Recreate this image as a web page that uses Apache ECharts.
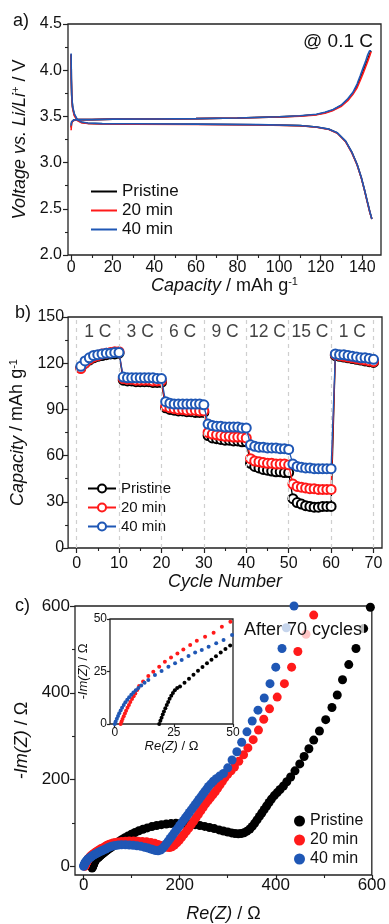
<!DOCTYPE html>
<html><head><meta charset="utf-8">
<script src="https://cdn.jsdelivr.net/npm/echarts@6/dist/echarts.min.js"></script>
<style>html,body{margin:0;padding:0;background:#fff}#c{width:389px;height:924px}</style>
</head><body><div id="c"></div>
<script>
// ================= DATA =================
// Panel a: galvanostatic charge/discharge @ 0.1 C
const chargeCap    = [0, 0.2, 0.6, 1.2, 2.5, 5, 10, 20, 40, 60, 80, 100, 110, 118, 122, 126, 130, 133, 135.5, 137.5, 139, 140.3, 141.5, 142.5, 143.5, 144.2];
const chargeV_P    = [3.38, 3.43, 3.45, 3.46, 3.465, 3.465, 3.465, 3.47, 3.472, 3.476, 3.482, 3.495, 3.505, 3.52, 3.54, 3.57, 3.62, 3.68, 3.75, 3.83, 3.91, 3.98, 4.05, 4.11, 4.17, 4.21];
const chargeV_20   = [3.35, 3.42, 3.45, 3.46, 3.465, 3.465, 3.465, 3.47, 3.472, 3.476, 3.482, 3.494, 3.503, 3.517, 3.535, 3.565, 3.61, 3.67, 3.74, 3.81, 3.89, 3.96, 4.03, 4.09, 4.15, 4.2];
const chargeV_40   = [3.40, 3.44, 3.455, 3.46, 3.465, 3.465, 3.465, 3.47, 3.472, 3.476, 3.482, 3.496, 3.507, 3.523, 3.545, 3.575, 3.625, 3.69, 3.76, 3.85, 3.94, 4.02, 4.09, 4.16, 4.21, 4.21];
const dischCap     = [0, 0.1, 0.3, 0.7, 1.5, 3, 5, 8, 15, 30, 60, 90, 110, 118, 124, 128, 132, 135, 137.5, 139.5, 141, 142.5, 143.7, 144.6];
const dischV_P     = [4.17, 3.9, 3.72, 3.6, 3.52, 3.46, 3.435, 3.425, 3.42, 3.418, 3.415, 3.41, 3.40, 3.385, 3.36, 3.32, 3.23, 3.11, 2.98, 2.84, 2.71, 2.57, 2.46, 2.39];
const dischV_20    = [4.17, 3.9, 3.71, 3.59, 3.51, 3.455, 3.432, 3.423, 3.418, 3.416, 3.413, 3.408, 3.398, 3.383, 3.358, 3.318, 3.225, 3.105, 2.975, 2.835, 2.705, 2.565, 2.455, 2.39];
const dischV_40    = [4.18, 3.92, 3.73, 3.61, 3.53, 3.465, 3.44, 3.428, 3.422, 3.42, 3.416, 3.411, 3.401, 3.386, 3.362, 3.322, 3.232, 3.112, 2.982, 2.842, 2.712, 2.572, 2.462, 2.39];

// Panel b: rate capability
const cycles = [1,2,3,4,5,6,7,8,9,10,11,12,13,14,15,16,17,18,19,20,21,22,23,24,25,26,27,28,29,30,31,32,33,34,35,36,37,38,39,40,41,42,43,44,45,46,47,48,49,50,51,52,53,54,55,56,57,58,59,60,61,62,63,64,65,66,67,68,69,70];
const rateP  = [117,120,122,123.5,124.5,125,125.5,126,126,126.5, 109,108.5,108.5,108,108,108,108,107.5,107.5,107.5, 91,90,89.5,89,89,88.5,88.5,88,88,88, 73,71.5,71,70.5,70,70,69.5,69.5,69,69, 55,53,52,51,50.5,50,49.5,49.5,49,49, 32,29.5,28.5,27.5,27,26.5,26.5,27,27,27, 125,124.5,124,123.5,123,122.5,122,121.5,121,120.5];
const rate20 = [116.5,120,122.5,124,125,126,126.5,127,127.5,127.5, 110,109.5,109.5,109,109,109,109,108.5,108.5,108.5, 92,91,90.5,90,90,89.5,89.5,89.5,89,89, 75,74,73.5,73,72.5,72.5,72,72,72,71.5, 58,56.5,56,55.5,55,55,54.5,54.5,54.5,54, 41.5,40,39.5,39,38.5,38.5,38,38,38,38, 125.5,125,124.5,124,123.5,123,122.5,122,121.5,121];
const rate40 = [118,121.5,123.5,125,125.5,126,126.5,126.5,127,127, 111,110.5,110.5,110.5,110.5,110.5,110.5,110.5,110,110, 95,94,93.5,93.5,93.5,93.5,93.5,93.5,93.5,93, 80.5,79.5,79,79,78.5,78.5,78.5,78.5,78,78, 67,66,65.5,65.5,65,65,65,64.5,64.5,64, 54.5,53,52.5,52,52,51.5,51.5,51.5,51.5,51.5, 126,125.5,125.5,125,124.5,124,123.5,123.5,123,122.5];
const rateLabels  = ['1 C','3 C','6 C','9 C','12 C','15 C','1 C'];
const rateLabelX  = [5, 15, 25, 35, 45, 55, 65];
const rateDividers = [0, 10, 20, 30, 40, 50, 60, 70];

// Panel c: Nyquist plots [Re(Z), -Im(Z)]
const eisP = [[17.5,-4],[18.2,-2],[18.8,0],[19.3,1.5],[19.8,3],[20.3,4.5],[20.8,6],[21.4,7.5],[22,9],[22.6,10.5],[23.2,12],[23.9,13.4],[24.6,14.8],[25.4,16.1],[26.4,17.1],[27.6,17.8],[29.5,19.7],[31.4,21.6],[33.3,23.5],[35.2,25.3],[37.1,27.1],[39,28.9],[40.9,30.6],[42.8,32.3],[44.8,34],[46.8,35.7],[48.8,37.4],[50.9,39.1],[54,41.5],[57.5,44],[61,47],[65,50.5],[69.5,54],[74.5,58],[80,62],[86,66],[92.5,70],[99.5,74],[107,78],[115,82],[123.5,85.5],[132.5,88.5],[142,91.5],[152,94],[162,96],[172,97.5],[182,98.5],[192,99],[202,99],[212,98.5],[222,97.5],[232,96],[242,94],[252,92],[262,89.5],[272,87],[282,84],[291,81.5],[300,79],[308,77],[315,75.5],[322,75],[328,75.5],[334,77.5],[340,81],[346,86],[351,92],[356,99],[361,107],[366,115],[371,123],[376,131],[381,139],[386,147],[391,155],[397,163],[403,170],[409,177],[416,185],[423,195],[431,206],[440,220],[450,236],[459,253],[469,271],[479,291],[491,312],[504,338],[517,366],[528,395],[539,430],[552,465],[567,502],[583,548],[597,597]];
const eis20 = [[2.5,0],[2.9,1.2],[3.3,2.4],[3.8,3.7],[4.3,5],[4.8,6.3],[5.4,7.7],[6,9.1],[6.6,10.5],[7.3,11.9],[8,13.2],[8.7,14.5],[9.5,16.2],[10.3,18.1],[12,20.2],[14.2,22.9],[16.3,24.9],[18.8,27.3],[21.2,29.7],[23.8,31.7],[26.5,33.6],[29,35.5],[31.9,37.6],[34.7,39.7],[38.2,41.6],[41.8,43.5],[45.3,46.3],[48.9,48.7],[52.5,50.5],[56.5,52],[61,53.5],[66,55],[72,56],[79,57],[87,58],[95,58.5],[104,58.5],[113,58],[122,57.5],[131,56.5],[140,55],[148,53],[155,50.5],[161,48],[167,45.5],[173,44],[179,43.5],[184,45],[189,49],[194,54],[199,60],[204,67],[209,74],[214,81],[219,88],[224,96],[229,104],[234,112],[239,120],[244,128],[249,136],[254,144],[259,151],[264,158],[269,165],[274,172],[279,180],[284,188],[289,196],[294,204],[300,212],[307,220],[314,229],[323,242],[333,257],[342,273],[353,292],[364,314],[375,339],[387,363],[403,390],[418,421],[433,459],[446,495],[463,535],[479,579]];
const eis40 = [[0,0],[0.4,1.2],[0.9,2.5],[1.4,3.8],[1.9,5.1],[2.5,6.4],[3.1,7.7],[3.8,9],[4.5,10.3],[5.3,11.5],[6.1,12.7],[7,13.9],[7.9,15],[8.9,16.1],[10,17.2],[11.2,18.3],[12.6,19.6],[14.2,21],[17,23.3],[19.8,25.2],[22.7,27.3],[25.5,28.9],[28.3,30.5],[31.2,32.4],[34,34],[36.8,35.2],[39.7,36.8],[42.9,38.4],[46,40],[49.6,42.4],[52.8,44],[56.5,45.5],[61,47],[66,48],[72,49],[79,49.5],[87,49.5],[95,49],[103,48.5],[111,47.5],[119,46],[127,44],[134,42],[140,40],[145,38],[150,36.5],[155,36],[160,37.5],[164,41],[168,46],[172,52],[176,58],[180,64],[184,70],[188,76],[192,82],[196,88],[200,94],[204,100],[208,106],[212,112],[216,118],[220,124],[224,130],[228,136],[232,142],[236,148],[240,154],[244,160],[248,166],[252,172],[256,178],[260,184],[265,190],[270,196],[276,202],[283,208],[291,214],[300,227],[309,245],[319,264],[329,286],[340,310],[351,335],[363,360],[376,388],[388,421],[400,459],[413,502],[422,550],[438,600]];

// Tick values
const aXTicks = [0,20,40,60,80,100,120,140], aXMinor = [10,30,50,70,90,110,130];
const bXTicks = [0,10,20,30,40,50,60,70], bXMinor = [5,15,25,35,45,55,65];
const cTicks = [0,200,400,600], cMinor = [100,300,500];
const insetTicks = [0,25,50];
const seriesNames = ['Pristine','20 min','40 min'];

// ================= STYLE =================
const F = '"Liberation Sans", Arial, Helvetica, sans-serif';
const INK = '#111';
const COLORS = ['#000000', '#ff1a1a', '#1f57b5'];
const zip = (a, b) => a.map((v, i) => [v, b[i]]);

function mainAxis(dim, grid, min, max, opt) {
  const o = {
    type: 'value', gridIndex: grid, min: min, max: max,
    position: dim === 'x' ? 'bottom' : 'left',
    axisLine: { show: false, onZero: false },
    axisTick: { show: true, length: opt.tickLen || 5, lineStyle: { color: '#222', width: 1.2 } },
    axisLabel: { fontFamily: F, fontSize: opt.fs, color: INK, margin: opt.margin },
    splitLine: { show: false },
    name: opt.name || '', nameLocation: 'middle', nameGap: opt.nameGap,
    nameTextStyle: { fontFamily: F, fontSize: opt.nfs, color: INK, rich: opt.rich }
  };
  if (opt.ticks) { o.axisTick.customValues = opt.ticks; o.axisLabel.customValues = opt.ticks; }
  else { o.interval = opt.interval; }
  if (opt.fmt) o.axisLabel.formatter = opt.fmt;
  return o;
}
function minorAxis(dim, grid, min, max, vals) {
  return {
    type: 'value', gridIndex: grid, min: min, max: max,
    position: dim === 'x' ? 'bottom' : 'left',
    axisLine: { show: false, onZero: false },
    axisTick: { show: true, length: 3, customValues: vals, lineStyle: { color: '#222', width: 1.1 } },
    axisLabel: { show: false }, splitLine: { show: false }
  };
}
function rich(fs) {
  return {
    i: { fontFamily: F, fontSize: fs, fontStyle: 'italic', color: INK },
    n: { fontFamily: F, fontSize: fs, color: INK },
    s: { fontFamily: F, fontSize: Math.round(fs * 0.62), color: INK, padding: [0, 0, Math.round(fs * 0.45), 0] },
    is: { fontFamily: F, fontSize: Math.round(fs * 0.62), fontStyle: 'italic', color: INK, padding: [0, 0, Math.round(fs * 0.45), 0] }
  };
}

const gridFrame = { show: true, borderColor: '#222', borderWidth: 1.3, backgroundColor: 'transparent' };
const grids = [
  Object.assign({ left: 68, top: 24, width: 313, height: 231 }, gridFrame),
  Object.assign({ left: 68, top: 317, width: 314, height: 231 }, gridFrame),
  Object.assign({ left: 75, top: 606, width: 298, height: 271 }, gridFrame),
  Object.assign({ left: 110, top: 619, width: 123, height: 105 }, gridFrame, { backgroundColor: '#fff' })
];

const xAxes = [
  mainAxis('x', 0, -1.5, 149, { ticks: aXTicks, fs: 16, margin: 5, name: '{i|Capacity}{n| / mAh g}{s|-1}', nameGap: 16, nfs: 18, rich: rich(18) }),
  minorAxis('x', 0, -1.5, 149, aXMinor),
  mainAxis('x', 1, -2, 72, { ticks: bXTicks, fs: 16, margin: 8, name: '{i|Cycle Number}', nameGap: 18, nfs: 18, rich: rich(18) }),
  minorAxis('x', 1, -2, 72, bXMinor),
  mainAxis('x', 2, -18, 600, { ticks: cTicks, fs: 17, margin: 2, name: '{i|Re(Z)}{n| / Ω}', nameGap: 30, nfs: 18, rich: rich(18) }),
  minorAxis('x', 2, -18, 600, cMinor),
  mainAxis('x', 3, -2, 50, { ticks: insetTicks, fs: 12, margin: 3, tickLen: 3, name: '{i|Re(Z)}{n| / Ω}', nameGap: 12, nfs: 13, rich: rich(13) })
];
const yAxes = [
  mainAxis('y', 0, 2, 4.5, { interval: 0.5, fs: 16, margin: 6, fmt: v => v.toFixed(1), name: '{i|Voltage vs. Li/Li}{is|+}{n| / V}', nameGap: 31, nfs: 18, rich: rich(18) }),
  minorAxis('y', 0, 2, 4.5, [2.25, 2.75, 3.25, 3.75, 4.25]),
  mainAxis('y', 1, 0, 150, { interval: 30, fs: 16, margin: 4, name: '{i|Capacity}{n| / mAh g}{s|-1}', nameGap: 31, nfs: 18, rich: rich(18) }),
  minorAxis('y', 1, 0, 150, [15, 45, 75, 105, 135]),
  mainAxis('y', 2, -20, 600, { ticks: cTicks, fs: 17, margin: 5, name: '{i|-Im(Z)}{n| / Ω}', nameGap: 41, nfs: 18, rich: rich(18) }),
  minorAxis('y', 2, -20, 600, cMinor),
  mainAxis('y', 3, 0, 50, { interval: 25, fs: 12, margin: 3, tickLen: 3, name: '{i|-Im(Z)}{n| / Ω}', nameGap: 18, nfs: 13, rich: rich(13) })
];

const series = [];
// Panel a
const chargeSets = [chargeV_P, chargeV_20, chargeV_40];
const dischSets = [dischV_P, dischV_20, dischV_40];
seriesNames.forEach((nm, k) => {
  [zip(chargeCap, chargeSets[k]), zip(dischCap, dischSets[k])].forEach(d => {
    series.push({ type: 'line', name: 'a-' + nm, xAxisIndex: 0, yAxisIndex: 0, data: d, symbol: 'none',
      lineStyle: { color: COLORS[k], width: 1.6 }, itemStyle: { color: COLORS[k] }, z: 3 + k });
  });
});
// Panel b
series.push({
  type: 'scatter', name: 'rate-labels', xAxisIndex: 2, yAxisIndex: 2, z: 1, symbolSize: 1,
  itemStyle: { color: 'rgba(0,0,0,0)' },
  data: rateLabelX.map(x => [x, 140]),
  label: { show: true, position: 'inside', formatter: p => rateLabels[p.dataIndex], fontFamily: F, fontSize: 17.5, color: INK },
  markLine: { silent: true, symbol: ['none', 'none'], label: { show: false },
    lineStyle: { type: [4, 4], color: '#cfcfcf', width: 1.2 }, data: rateDividers.map(v => ({ xAxis: v })) }
});
[rateP, rate20, rate40].forEach((arr, k) => {
  series.push({ type: 'line', name: 'b-' + seriesNames[k], xAxisIndex: 2, yAxisIndex: 2, data: zip(cycles, arr),
    symbol: 'emptyCircle', symbolSize: 9, showSymbol: true,
    lineStyle: { color: COLORS[k], width: 1.3 }, itemStyle: { color: COLORS[k], borderWidth: 1.6 }, z: 3 + k });
});
// Panel c
[eisP, eis20, eis40].forEach((arr, k) => {
  series.push({ type: 'scatter', name: 'c-' + seriesNames[k], xAxisIndex: 4, yAxisIndex: 4, data: arr,
    symbol: 'circle', symbolSize: 9, itemStyle: { color: COLORS[k], opacity: 1 }, z: 3 + k });
  series.push({ type: 'scatter', name: 'i-' + seriesNames[k], xAxisIndex: 6, yAxisIndex: 6, data: arr,
    symbol: 'circle', symbolSize: 4, itemStyle: { color: COLORS[k], opacity: 1 }, z: 3 + k });
});

const legendBase = { orient: 'vertical', formatter: n => n.slice(2), selectedMode: false,
  textStyle: { fontFamily: F, color: INK } };
const option = {
  animation: false,
  backgroundColor: '#fff',
  grid: grids, xAxis: xAxes, yAxis: yAxes, series: series,
  legend: [
    Object.assign({}, legendBase, { left: 86, top: 178, itemWidth: 26, itemHeight: 2, itemGap: 2, icon: 'rect',
      data: seriesNames.map(n => 'a-' + n), textStyle: { fontFamily: F, color: INK, fontSize: 17, lineHeight: 17 } }),
    Object.assign({}, legendBase, { left: 82, top: 476, itemWidth: 28, itemHeight: 10, itemGap: 4,
      data: seriesNames.map(n => 'b-' + n), textStyle: { fontFamily: F, color: INK, fontSize: 15, lineHeight: 15 } }),
    Object.assign({}, legendBase, { left: 289, top: 808, itemWidth: 11, itemHeight: 11, itemGap: 3,
      data: seriesNames.map(n => 'c-' + n), textStyle: { fontFamily: F, color: INK, fontSize: 16, lineHeight: 16 } })
  ],
  graphic: [
    { type: 'text', left: 13, top: 12, style: { text: 'a)', font: '18px ' + F, fill: INK } },
    { type: 'text', left: 15, top: 304, style: { text: 'b)', font: '18px ' + F, fill: INK } },
    { type: 'text', left: 15, top: 597, style: { text: 'c)', font: '18px ' + F, fill: INK } },
    { type: 'text', right: 16, top: 32, style: { text: '@ 0.1 C', font: '19px ' + F, fill: INK } },
    { type: 'text', left: 242, top: 620, z: 100, style: { text: 'After 70 cycles', font: '18px ' + F, fill: INK,
        backgroundColor: 'rgba(255,255,255,0.75)', padding: [1, 2, 1, 2] } }
  ]
};
const chart = echarts.init(document.getElementById('c'), null, { renderer: 'canvas' });
chart.setOption(option);
</script></body></html>
